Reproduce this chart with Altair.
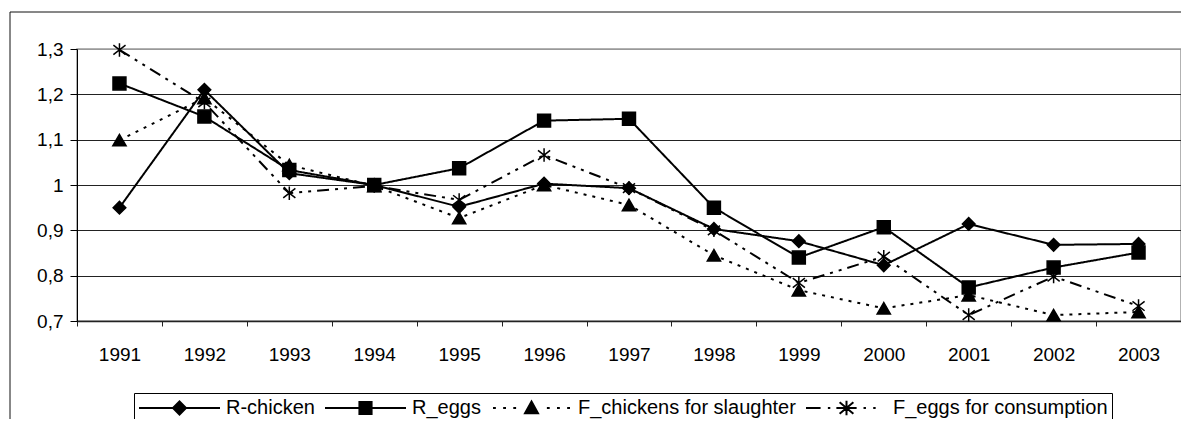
import altair as alt
import pandas as pd

years = [str(y) for y in range(1991, 2004)]
series_names = ["R-chicken", "R_eggs", "F_chickens for slaughter", "F_eggs for consumption"]
r_chicken = [0.950, 1.210, 1.026, 1.000, 0.952, 1.003, 0.993, 0.903, 0.876, 0.823, 0.914, 0.868, 0.870]
r_eggs = [1.224, 1.151, 1.033, 1.000, 1.037, 1.142, 1.146, 0.950, 0.840, 0.907, 0.774, 0.818, 0.851]
f_chickens = [1.099, 1.192, 1.044, 0.998, 0.927, 1.000, 0.956, 0.845, 0.768, 0.728, 0.757, 0.713, 0.720]
f_eggs = [1.298, 1.182, 0.982, 0.998, 0.967, 1.066, 0.993, 0.900, 0.784, 0.842, 0.713, 0.798, 0.733]
y_ticks = [0.7, 0.8, 0.9, 1.0, 1.1, 1.2, 1.3]

rows = []
for name, vals in zip(series_names, [r_chicken, r_eggs, f_chickens, f_eggs]):
    for yr, v in zip(years, vals):
        rows.append({"year": yr, "value": v, "series": name})
df = pd.DataFrame(rows)

ASTER = "M0,-1L0,1M-0.9,-0.7L0.9,0.7M-0.9,0.7L0.9,-0.7"
marker_shapes = ["diamond", "square", "triangle-up", ASTER]
marker_sizes = [160, 182, 190, 240]
dashes = [[1, 0], [1, 0], [3, 6], [12, 6, 3, 6, 3, 6]]

legend_paths = [
    "M-1,0L1,0M-0.16,0L0,-0.16L0.16,0L0,0.16Z",
    "M-1,0L1,0M-0.15,-0.15L0.15,-0.15L0.15,0.15L-0.15,0.15Z",
    "M-0.95,0L-0.88,0M-0.7,0L-0.63,0M-0.45,0L-0.38,0M0,-0.16L0.16,0.13L-0.16,0.13Z"
    "M0.38,0L0.45,0M0.63,0L0.7,0M0.88,0L0.95,0",
    "M-1,0L-0.64,0M-0.46,0L-0.4,0M-0.25,0L0.25,0M0,-0.18L0,0.18M-0.17,-0.14L0.17,0.14"
    "M-0.17,0.14L0.17,-0.14M0.42,0L0.48,0M0.66,0L0.72,0",
]

FONT = "Liberation Sans"

x_enc = alt.X("year:O", scale=alt.Scale(type="band", paddingInner=0, paddingOuter=0),
              axis=alt.Axis(title=None, labelAngle=0, tickBand="extent", tickSize=5,
                            labelPadding=19, labelFontSize=19, grid=False,
                            domainColor="#222222", domainWidth=1.5, tickColor="#222222"))
y_enc = alt.Y("value:Q", scale=alt.Scale(domain=[0.7, 1.3], nice=False, zero=False),
              axis=alt.Axis(title=None, values=y_ticks, tickSize=7, labelPadding=7,
                            labelFontSize=19,
                            labelExpr="replace(format(datum.value, '.1~f'), '.', ',')",
                            domainColor="black", tickColor="black",
                            gridColor={"condition": {"test": "datum.value > 1.25", "value": "#999999"},
                                       "value": "#222222"},
                            gridWidth=1))

base = alt.Chart(df)

lines = base.mark_line(color="black", strokeWidth=2).encode(
    x=x_enc, y=y_enc,
    detail="series:N",
    strokeDash=alt.StrokeDash("series:N", scale=alt.Scale(domain=series_names, range=dashes), legend=None),
)

points = base.mark_point(filled=True, color="black", stroke="black", strokeWidth=1.5, opacity=1).encode(
    x=x_enc, y=y_enc,
    shape=alt.Shape("series:N", scale=alt.Scale(domain=series_names, range=marker_shapes), legend=None),
    size=alt.Size("series:N", scale=alt.Scale(domain=series_names, range=marker_sizes), legend=None),
)

legend_layer = base.transform_filter("datum.value > 100").mark_point(
    filled=False, color="black", fill="black", stroke="black", strokeWidth=2, opacity=1
).encode(
    x=x_enc, y=y_enc,
    shape=alt.Shape("series:N", scale=alt.Scale(domain=series_names, range=legend_paths),
                    legend=alt.Legend(orient="none", legendX=57, legendY=344, direction="horizontal",
                                      title=None, symbolSize=6561, labelFontSize=20, labelFont=FONT,
                                      labelColor="black", labelOffset=5, columnPadding=9, padding=4,
                                      strokeColor="black", symbolStrokeWidth=2,
                                      symbolOpacity=1, clipHeight=22, labelLimit=400)),
)

frame_data = alt.Data(values=[{"k": 1}])
frame_left = alt.Chart(frame_data).mark_rule(color="#111111", strokeWidth=1).encode(
    x=alt.value(-67), y=alt.value(-37), y2=alt.value(420))
frame_top = alt.Chart(frame_data).mark_rule(color="#111111", strokeWidth=1).encode(
    x=alt.value(-67), x2=alt.value(1130), y=alt.value(-37))

chart = alt.layer(frame_left, frame_top, lines, points, legend_layer).resolve_scale(
    shape="independent"
).properties(
    width=1104, height=272,
    autosize=alt.AutoSizeParams(type="none"),
    padding={"left": 69, "top": 41, "right": 0, "bottom": 98},
    background="white",
).configure_view(stroke="#999999", strokeWidth=1.5).configure_axis(
    labelFont=FONT, labelColor="black"
)

chart.save("out.html", embed_options={"renderer": "svg", "actions": False})
